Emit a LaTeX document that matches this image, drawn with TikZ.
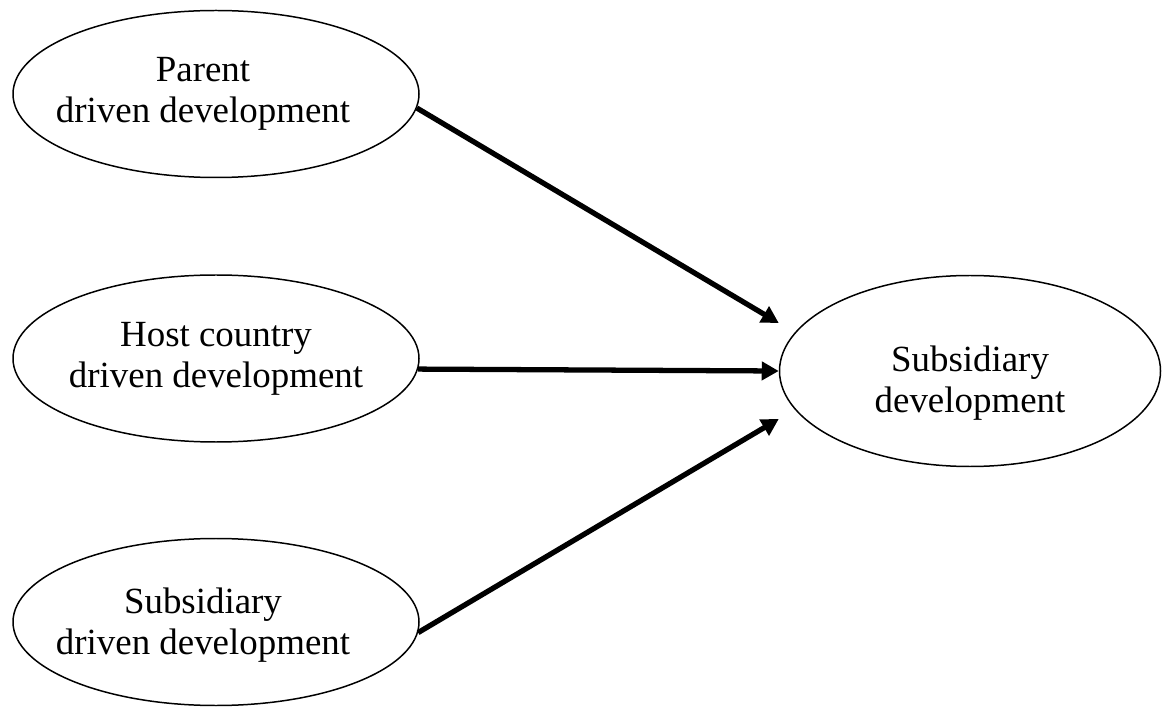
\documentclass[tikz,border=0pt]{standalone}
\usepackage{fontspec}
\setmainfont{Liberation Serif}
\usepackage{tikz}
\usetikzlibrary{shapes.geometric,arrows.meta}

\tikzset{
    factor/.style={draw, ellipse, line width=0.85pt, inner sep=0pt,
        minimum width=8.12cm, minimum height=3.34cm},
    outcome/.style={factor, minimum width=7.62cm, minimum height=3.82cm},
    caption/.style={align=center, inner sep=0pt, font=\fontsize{21}{23.5}\selectfont},
    effect/.style={line width=3pt, -{Triangle[length=0.34cm,width=0.36cm]}}
}

\begin{document}
\begin{tikzpicture}
                        \useasboundingbox (0,0) rectangle (23.24,14.14);
                        \node [factor] (pdd) at (4.32,12.26) {};
                        \node [factor] (hdd) at (4.32,6.97) {};
                        \node [factor] (sdd) at (4.32,1.70) {};
                        \node [outcome] (sd) at (19.40,6.72) {};
                        \node [caption] (pddtext) at ([xshift=-0.26cm]pdd.center) {Parent\\driven development};
                        \node [caption] (hddtext) at (hdd.center) {Host country\\driven development};
                        \node [caption] (sddtext) at ([xshift=-0.26cm,yshift=-0.06cm]sdd.center) {Subsidiary\\driven development};
                        \node [caption] (sdtext) at ([yshift=-0.24cm]sd.center) {Subsidiary\\development};
                        \coordinate (inA) at ([yshift=0.96cm]sd.west);
                        \coordinate (inB) at (sd.west);
                        \coordinate (inC) at ([yshift=-0.96cm]sd.west);
                        \draw [effect] (pdd.-4) -- (inA);
                        \draw [effect] (hdd.-3.5) -- (inB);
                        \draw [effect] (sdd.-3) -- (inC);
                    \end{tikzpicture}
\end{document}
